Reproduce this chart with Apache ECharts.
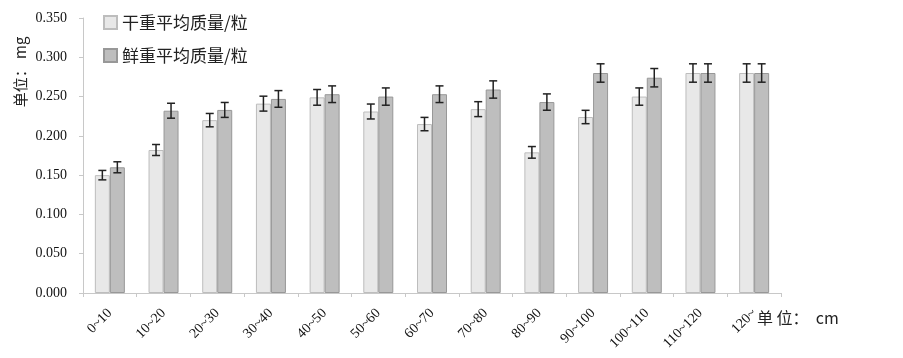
<!DOCTYPE html>
<html>
<head>
<meta charset="utf-8">
<script src="https://cdn.jsdelivr.net/npm/echarts@6/dist/echarts.min.js"></script>
<style>
  html, body { margin: 0; padding: 0; background: #fff; }
  #chart { width: 903px; height: 358px; }
</style>
</head>
<body>
<div id="chart"></div>
<script>
var categories = ['0~10', '10~20', '20~30', '30~40', '40~50', '50~60', '60~70',
  '70~80', '80~90', '90~100', '100~110', '110~120', '120~']
var dryMean = [0.150, 0.182, 0.220, 0.241, 0.249, 0.231, 0.215, 0.234, 0.179, 0.224, 0.250, 0.280, 0.280]
var dryErr = [0.006, 0.007, 0.0085, 0.0095, 0.010, 0.0095, 0.0085, 0.0095, 0.0074, 0.0085, 0.011, 0.0117, 0.0117]
var freshMean = [0.160, 0.232, 0.233, 0.247, 0.253, 0.250, 0.253, 0.259, 0.243, 0.280, 0.274, 0.280, 0.280]
var freshErr = [0.007, 0.0095, 0.0095, 0.0106, 0.0106, 0.011, 0.0106, 0.011, 0.0104, 0.0117, 0.0117, 0.0117, 0.0117]

var serif = '"Liberation Serif", "Noto Sans CJK SC", serif'
var cjk = '"Noto Sans CJK SC", "Liberation Serif", serif'
var BAR_W = 15

// error bar: I-beam centred on the bar, shifted by offset px
function errorBars(mean, err, offset) {
  var data = mean.map(function (m, i) { return [i, m - err[i], m + err[i]] })
  return {
    type: 'custom',
    silent: true,
    z: 10,
    data: data,
    renderItem: function (params, api) {
      var lo = api.coord([api.value(0), api.value(1)])
      var hi = api.coord([api.value(0), api.value(2)])
      var x = lo[0] + offset
      var cap = 4
      var style = { stroke: '#222', lineWidth: 1.5 }
      return {
        type: 'group',
        children: [
          { type: 'line', shape: { x1: x, y1: lo[1], x2: x, y2: hi[1] }, style: style },
          { type: 'line', shape: { x1: x - cap, y1: lo[1], x2: x + cap, y2: lo[1] }, style: style },
          { type: 'line', shape: { x1: x - cap, y1: hi[1], x2: x + cap, y2: hi[1] }, style: style }
        ]
      }
    }
  }
}

var chart = echarts.init(document.getElementById('chart'))
chart.setOption({
  animation: false,
  grid: { left: 83, right: 122, top: 18, bottom: 65, containLabel: false, outerBoundsMode: 'none' },
  legend: {
    orient: 'vertical',
    left: 98,
    top: 9,
    icon: 'rect',
    itemWidth: 13,
    itemHeight: 13,
    itemGap: 16,
    data: ['干重平均质量/粒', '鲜重平均质量/粒'],
    textStyle: { fontFamily: cjk, fontSize: 17, color: '#222' }
  },
  xAxis: {
    type: 'category',
    data: categories,
    axisLine: { lineStyle: { color: '#c8c8c8' } },
    axisTick: { show: true, length: 4, lineStyle: { color: '#c8c8c8' } },
    axisLabel: {
      rotate: 45,
      margin: 18,
      fontFamily: serif,
      fontSize: 14,
      color: '#111'
    }
  },
  yAxis: {
    type: 'value',
    min: 0,
    max: 0.35,
    interval: 0.05,
    axisLine: { show: true, lineStyle: { color: '#c8c8c8' } },
    axisTick: { show: true, length: 4, lineStyle: { color: '#c8c8c8' } },
    splitLine: { show: false },
    axisLabel: {
      margin: 16,
      fontFamily: serif,
      fontSize: 14,
      color: '#111',
      formatter: function (v) { return v.toFixed(3) }
    }
  },
  graphic: [
    {
      type: 'text',
      x: 20,
      y: 72,
      rotation: Math.PI / 2,
      style: { text: '单位： mg', font: '15px ' + cjk, fill: '#222', align: 'center', verticalAlign: 'middle' }
    },
    {
      type: 'text',
      left: 757,
      top: 310,
      style: { text: '单 位：  cm', font: '16px ' + cjk, fill: '#222' }
    }
  ],
  series: [
    {
      name: '干重平均质量/粒',
      type: 'bar',
      barWidth: BAR_W,
      barGap: '0%',
      data: dryMean,
      itemStyle: { color: '#e8e8e8', borderColor: '#bdbdbd', borderWidth: 1 }
    },
    {
      name: '鲜重平均质量/粒',
      type: 'bar',
      barWidth: BAR_W,
      barGap: '0%',
      data: freshMean,
      itemStyle: { color: '#bebebe', borderColor: '#989898', borderWidth: 1 }
    },
    errorBars(dryMean, dryErr, -BAR_W / 2),
    errorBars(freshMean, freshErr, BAR_W / 2)
  ]
})
</script>
</body>
</html>
